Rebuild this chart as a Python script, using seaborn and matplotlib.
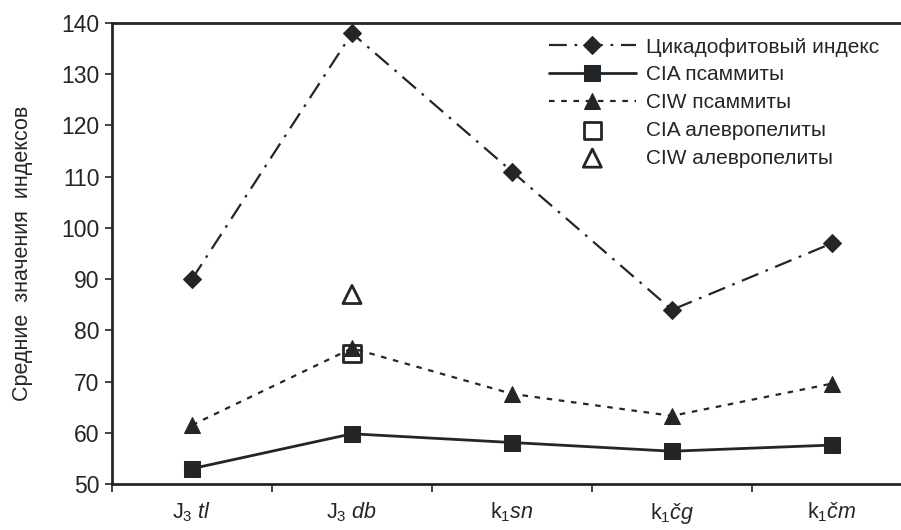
import numpy as np
import pandas as pd
import matplotlib
matplotlib.use("Agg")
import matplotlib.pyplot as plt
from matplotlib.ticker import FixedLocator, NullFormatter
import seaborn as sns

# Stratigraphic units (x axis) and mean index values
units = [r"J$_3$ $\mathit{tl}$", r"J$_3$ $\mathit{db}$", r"k$_1$$\mathit{sn}$",
         r"k$_1$$\mathit{čg}$", r"k$_1$$\mathit{čm}$"]
cycad_index = [90.0, 138.0, 111.0, 84.0, 97.0]
cia_psammite = [53.0, 59.8, 58.1, 56.4, 57.6]
ciw_psammite = [61.5, 76.5, 67.6, 63.3, 69.6]
cia_aleuropelite_unit = [1]
cia_aleuropelite = [75.5]
ciw_aleuropelite_unit = [1]
ciw_aleuropelite = [87.0]

y_ticks = [50, 60, 70, 80, 90, 100, 110, 120, 130, 140]

sns.set_theme(style="ticks")
plt.rcParams["font.family"] = ["Liberation Sans", "DejaVu Sans"]
plt.rcParams["mathtext.fontset"] = "custom"
plt.rcParams["mathtext.rm"] = "Liberation Sans"
plt.rcParams["mathtext.it"] = "Liberation Sans:italic"

ink = "#232629"
pos = np.arange(len(units))

fig = plt.figure(figsize=(9.01, 5.30), dpi=100)
ax = fig.add_axes([112 / 901, 46 / 530, 800 / 901, 461 / 530])

df = pd.DataFrame({
    "pos": pos,
    "cycad": cycad_index,
    "cia": cia_psammite,
    "ciw": ciw_psammite,
})

sns.lineplot(data=df, x="pos", y="cycad", ax=ax, color=ink, lw=1.6,
             linestyle=(0, (8, 3.5, 1.2, 3.5)), marker="D", markersize=9.5,
             markeredgecolor=ink, label="Цикадофитовый индекс")
sns.lineplot(data=df, x="pos", y="cia", ax=ax, color=ink, lw=2.0,
             linestyle="-", marker="s", markersize=11.5,
             markeredgecolor=ink, label="CIA псаммиты")
sns.lineplot(data=df, x="pos", y="ciw", ax=ax, color=ink, lw=1.6,
             linestyle=(0, (2.5, 3.0)), marker="^", markersize=12,
             markeredgecolor=ink, label="CIW псаммиты")
sns.scatterplot(x=cia_aleuropelite_unit, y=cia_aleuropelite, ax=ax, marker="s",
                s=150, facecolor="none", edgecolor=ink, linewidth=2.0,
                label="CIA алевропелиты", zorder=5)
sns.scatterplot(x=ciw_aleuropelite_unit, y=ciw_aleuropelite, ax=ax, marker="^",
                s=170, facecolor="none", edgecolor=ink, linewidth=2.0,
                label="CIW алевропелиты", zorder=5)

ax.set_xlim(-0.5, len(units) - 0.5)
ax.set_ylim(50, 140)
ax.set_yticks(y_ticks)
ax.set_yticklabels([str(v) for v in y_ticks])

# Boundary ticks between units, labels centred under each unit
ax.xaxis.set_major_locator(FixedLocator(np.arange(-0.5, len(units), 1.0)))
ax.xaxis.set_major_formatter(NullFormatter())
ax.xaxis.set_minor_locator(FixedLocator(pos))
ax.set_xticklabels(units, minor=True)
ax.tick_params(axis="x", which="major", length=6, width=1.2, color=ink, direction="out")
ax.tick_params(axis="x", which="minor", length=0, pad=12, labelsize=15.5, labelcolor=ink)
ax.tick_params(axis="y", length=5, width=1.2, color=ink, direction="out",
               labelsize=16.5, labelcolor=ink, pad=4)

ax.set_xlabel("")
ax.set_ylabel("Средние  значения  индексов", fontsize=15.5, color=ink, labelpad=20)

for side in ("left", "bottom", "top"):
    ax.spines[side].set_color(ink)
    ax.spines[side].set_linewidth(2.0)
ax.spines["right"].set_visible(False)

leg = ax.legend(loc="upper left", bbox_to_anchor=(0.5275, 1.0), frameon=False,
                fontsize=15, handlelength=4.2, handletextpad=0.5,
                labelspacing=0.42, labelcolor=ink, borderaxespad=0.3)

fig.savefig("out.png", dpi=100)
